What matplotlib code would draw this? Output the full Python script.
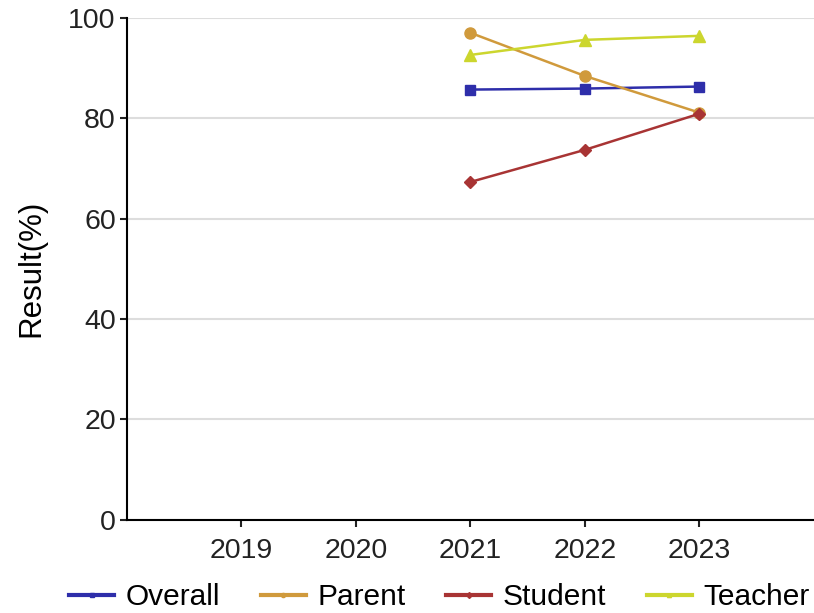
import matplotlib.pyplot as plt
from matplotlib.lines import Line2D

plt.rcParams["font.family"] = ["Liberation Sans", "DejaVu Sans"]

years = ["2019", "2020", "2021", "2022", "2023"]
overall = [None, None, 85.7, 85.9, 86.3]
parent = [None, None, 97.0, 88.4, 81.1]
student = [None, None, 67.3, 73.7, 80.9]
teacher = [None, None, 92.6, 95.6, 96.4]

series = [
    ("Overall", overall, "#2e2eaa", "s", 7.5),
    ("Parent", parent, "#d09a3c", "o", 8),
    ("Student", student, "#a83434", "D", 6),
    ("Teacher", teacher, "#ccd62e", "^", 8),
]

fig = plt.figure(figsize=(8.14, 6.13), dpi=100)
ax = fig.add_axes([0.156, 0.152, 0.844, 0.819])

handles = []
for name, vals, color, marker, ms in series:
    xs = [i for i, v in enumerate(vals) if v is not None]
    ys = [v for v in vals if v is not None]
    ax.plot(xs, ys, color=color, marker=marker, markersize=ms, linewidth=1.8)
    handles.append(Line2D([], [], color=color, linewidth=3, marker=marker, markersize=3))

ax.set_xlim(-1, 5)
ax.set_ylim(0, 100)
ax.set_xticks(range(len(years)))
ax.set_xticklabels(years)
ax.set_yticks([0, 20, 40, 60, 80, 100])
ax.yaxis.grid(True, color="#dddddd", linewidth=1.5)
ax.set_axisbelow(True)
for s in ["top", "right"]:
    ax.spines[s].set_visible(False)
ax.spines["left"].set_linewidth(1.5)
ax.spines["bottom"].set_linewidth(1.5)
ax.tick_params(axis="both", labelsize=20.5, width=1.5, length=5, colors="#222222")
ax.tick_params(axis="x", pad=8)
ax.tick_params(axis="y", pad=3)
ax.set_ylabel("Result(%)", fontsize=22.5, labelpad=16)

fig.legend(handles, [s[0] for s in series], loc="center", ncol=4,
           bbox_to_anchor=(0.54, 0.026), frameon=False, fontsize=21.5,
           handlelength=1.5, columnspacing=1.35, handletextpad=0.4,
           borderaxespad=0, borderpad=0)

fig.savefig("out.png", dpi=100)
